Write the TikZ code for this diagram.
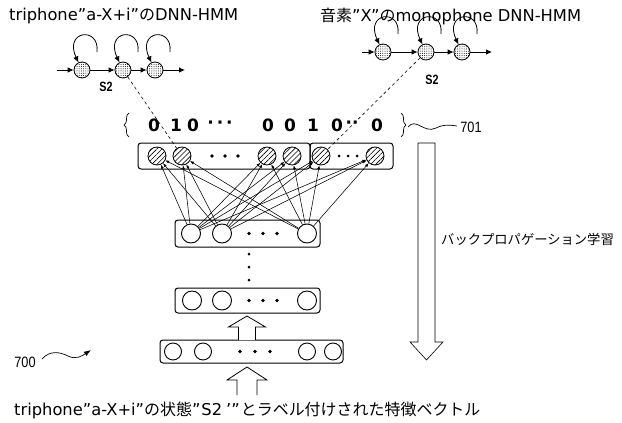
\documentclass[tikz,border=0pt]{standalone}
\usepackage{fontspec}
\setmainfont{DejaVu Sans}
\newfontfamily\cjk[Scale=0.98]{Noto Sans CJK JP}
\newfontfamily\bpfont{Noto Sans CJK JP}
\newfontfamily\numfont{DejaVu Sans}
\newfontfamily\narrowfont{Liberation Sans}
\usetikzlibrary{arrows.meta,patterns.meta,decorations.pathreplacing,calc}
\begin{document}
\begin{tikzpicture}[x=1pt,y=-1pt,
  every node/.style={inner sep=0pt},
  lbl/.style={font=\fontsize{16.3}{19}\selectfont},
  bplbl/.style={font=\bpfont\fontsize{13.3}{16}\selectfont},
  numlbl/.style={font=\numfont\bfseries\fontsize{17}{19}\selectfont},
  smalllbl/.style={font=\narrowfont\fontsize{15}{17}\selectfont, xscale=0.85},
  statelbl/.style={font=\narrowfont\bfseries\fontsize{13.5}{15}\selectfont, xscale=0.8},
  hmmstate/.style={circle,draw,line width=0.8pt,minimum size=16pt,pattern={Dots[distance=2.2pt,radius=0.5pt]}},
  outunit/.style={circle,draw,line width=0.8pt,minimum size=18pt,pattern={Lines[angle=45,distance=3.6pt,line width=0.6pt]}},
  unit/.style={circle,draw,line width=0.9pt,minimum size=19pt},
  layerbox/.style={draw,rounded corners=3pt,line width=1pt},
  tr/.style={-{Latex[length=6pt,width=5.5pt]},line width=0.8pt},
  conn/.style={-{Latex[length=4pt,width=3pt]},line width=0.55pt},
  blockarrow/.style={draw,line width=0.8pt,fill=white,line join=miter},
  dashline/.style={dashed,line width=0.6pt},
]
\useasboundingbox (0,0) rectangle (622,423);

% ---------- titles ----------
\node[lbl,anchor=west] (t1) at (9,16) {triphone”a-X+i”{\cjk の}DNN-HMM};
\node[lbl,anchor=west] (t2) at (320,16) {{\cjk 音素}”X”{\cjk の}monophone DNN-HMM};

% ---------- left HMM ----------
\coordinate (la) at (57,70);
\node[hmmstate] (l1) at (82,70) {};
\node[hmmstate] (l2) at (123,70) {};
\node[hmmstate] (l3) at (155,70) {};
\coordinate (lb) at (185,70);
\draw[tr] (la) -- (l1);
\draw[tr] (l1) -- (l2);
\draw[tr] (l2) -- (l3);
\draw[tr] (l3) -- (lb);
\node[statelbl] (ls2) at (106,87) {S2};

% ---------- right HMM ----------
\coordinate (ra) at (362,52);
\node[hmmstate] (r1) at (383,52) {};
\node[hmmstate] (r2) at (426,52) {};
\node[hmmstate] (r3) at (462,52) {};
\coordinate (rb) at (492,52);
\draw[tr] (ra) -- (r1);
\draw[tr] (r1) -- (r2);
\draw[tr] (r2) -- (r3);
\draw[tr] (r3) -- (rb);
\node[statelbl] (rs2) at (432,80) {S2};

% self loops
\foreach \n in {l1,l2,l3,r1,r2,r3}{
  \draw[tr] ($(\n)+(15,-18)$) .. controls +(3,-26) and +(-15,-32) .. (\n.115);
}

% ---------- output layer ----------
\node[layerbox,minimum width=172pt,minimum height=26pt] (ob1) at (224,156) {};
\node[layerbox,minimum width=83pt,minimum height=26pt] (ob2) at (351.5,156) {};
\node[outunit] (o1) at (157,156) {};
\node[outunit] (o2) at (182,156) {};
\node[outunit] (o3) at (267,156) {};
\node[outunit] (o4) at (292,156) {};
\node[outunit] (o5) at (321,156) {};
\node[outunit] (o6) at (375,156) {};
\foreach \x in {212,225,238} \fill (\x,156) circle (1.9pt);
\foreach \x in {339,348,357} \fill (\x,156) circle (1.5pt);

% one-hot vector
\draw[decorate,decoration={brace,amplitude=5pt},line width=0.7pt] (129,137) -- (129,113);
\draw[decorate,decoration={brace,amplitude=5pt},line width=0.7pt] (401,113) -- (401,137);
\node[numlbl] (v1) at (154,125) {0};
\node[numlbl] (v2) at (176,125) {1};
\node[numlbl] (v3) at (193,125) {0};
\node[numlbl] (v4) at (220,125) {·\,·\,·};
\node[numlbl] (v5) at (268,125) {0};
\node[numlbl] (v6) at (290,125) {0};
\node[numlbl] (v7) at (313,125) {1};
\node[numlbl] (v8) at (337,125) {0};
\node[numlbl] (v9) at (352,125) {··};
\node[numlbl] (v10) at (377,125) {0};
\draw[line width=0.7pt] (408,127) .. controls (416,117) and (424,134) .. (436,128) .. controls (444,124) and (450,125) .. (457,126);
\node[smalllbl] (n701) at (471,127) {701};

% dashed mapping lines
\draw[dashline] (l2) -- (o2);
\draw[dashline] (r2) -- (o5);

% ---------- hidden layer 1 ----------
\node[layerbox,minimum width=145pt,minimum height=27pt] (hb1) at (247.5,233.5) {};
\node[unit] (h1) at (191,233.5) {};
\node[unit] (h2) at (222,233.5) {};
\node[unit] (h3) at (307,233.5) {};
\foreach \x in {249,263,277} \fill (\x,233.5) circle (1.9pt);

\foreach \h in {h1,h2,h3}
  \foreach \o in {o1,o2,o3,o4,o5,o6}
    \draw[conn] (\h) -- (\o);

% vertical dots
\foreach \y in {254,267,280} \fill (249,\y) circle (1.5pt);

% ---------- hidden layer 2 ----------
\node[layerbox,minimum width=145pt,minimum height=25pt] (hb2) at (247.5,300.5) {};
\node[unit] (g1) at (192,300.5) {};
\node[unit] (g2) at (222,300.5) {};
\node[unit] (g3) at (307,300.5) {};
\foreach \x in {249,263,277} \fill (\x,300.5) circle (1.9pt);

% ---------- input layer ----------
\node[layerbox,minimum width=183pt,minimum height=23pt] (ib) at (251.5,351.5) {};
\node[unit,minimum size=17pt] (i1) at (173,351.5) {};
\node[unit,minimum size=17pt] (i2) at (203,351.5) {};
\node[unit,minimum size=17pt] (i3) at (307,351.5) {};
\node[unit,minimum size=17pt] (i4) at (333,351.5) {};
\foreach \x in {240,255,270} \fill (\x,351.5) circle (1.9pt);

% block arrows
\draw[blockarrow] (238.5,340) -- (238.5,327) -- (228.5,327) -- (247,316) -- (265.5,327) -- (255.5,327) -- (255.5,340);
\draw[blockarrow] (237,395) -- (237,380) -- (227,380) -- (247,367) -- (267,380) -- (257,380) -- (257,395);

% backprop arrow
\draw[blockarrow,line width=0.6pt] (418,143) -- (435,143) -- (435,342) -- (443,342) -- (426.5,360) -- (410,342) -- (418,342) -- cycle;
\node[bplbl,anchor=west] (bp) at (441,239) {バックプロパゲーション学習};

% 700 label
\node[smalllbl] (n700) at (25,362) {700};
\draw[line width=0.7pt,-{Latex[length=7pt,width=5pt]}] (42,359) .. controls (50,350) and (60,352) .. (68,356) .. controls (76,360) and (82,356) .. (91,350);

% bottom caption
\node[lbl,anchor=west] (cap) at (14,410) {triphone”a-X+i”{\cjk の状態}”\hspace{1pt}S2\hspace{4pt}’”\hspace{1pt}{\cjk とラベル付けされた特徴ベクトル}};
\end{tikzpicture}
\end{document}
